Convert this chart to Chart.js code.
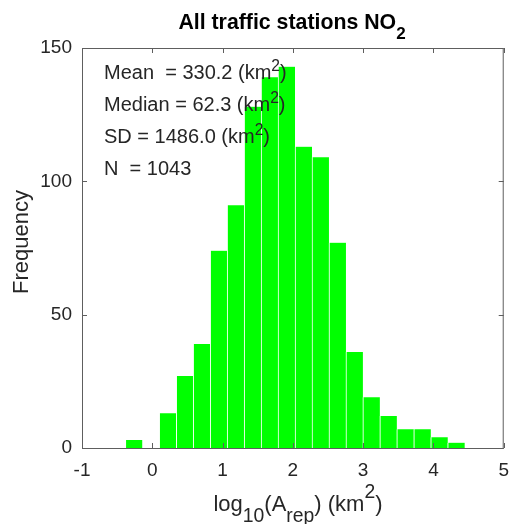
<!DOCTYPE html>
<html>
<head>
<meta charset="utf-8">
<script src="https://cdn.jsdelivr.net/npm/chart.js@4.4.1/dist/chart.umd.min.js"></script>
<style>
  body { margin: 0; background: #fff; }
  #wrap { width: 512px; height: 524px; }
</style>
</head>
<body>
<div id="wrap"><canvas id="histChart" width="512" height="524"></canvas></div>
<script>
// histogram bins (centers in log10 km2) and counts
const binCenters = [-0.262, -0.021, 0.220, 0.462, 0.703, 0.945, 1.186, 1.428, 1.669, 1.910,
                    2.152, 2.393, 2.635, 2.876, 3.117, 3.359, 3.600, 3.842, 4.083, 4.324];
const counts = [3, 0, 13, 27, 39, 74, 91, 128, 139, 143,
                113, 109, 77, 36, 19, 12, 7, 7, 4, 2];
const xTicks = [-1, 0, 1, 2, 3, 4, 5];
const yTicks = [0, 50, 100, 150];
const statLines = [
  ["Mean  = 330.2 (km", "2", ")"],
  ["Median = 62.3 (km", "2", ")"],
  ["SD = 1486.0 (km", "2", ")"],
  ["N  = 1043"]
];

const FONT = "'Liberation Sans', Arial, sans-serif";
const TXT = "#262626";
const AXIS = "#5e5e5e";

// draw a run of [text, mode] pieces, mode: n / sub / sup
// o = { scale, sub, sup } : small-text scale and offsets in em
function drawRich(ctx, parts, x, y, size, bold, align, o) {
  o = Object.assign({ scale: 0.78, sub: 0.5, sup: 0.4 }, o || {});
  const setFont = (p) => {
    const s = p[1] === 'n' ? size : size * o.scale;
    ctx.font = (bold ? 'bold ' : '') + s + 'px ' + FONT;
  };
  let total = 0;
  parts.forEach(p => { setFont(p); total += ctx.measureText(p[0]).width; });
  let cx = align === 'center' ? x - total / 2 : x;
  ctx.textBaseline = 'alphabetic';
  ctx.textAlign = 'left';
  parts.forEach(p => {
    setFont(p);
    let dy = 0;
    if (p[1] === 'sub') dy = size * o.sub;
    if (p[1] === 'sup') dy = -size * o.sup;
    ctx.fillText(p[0], cx, y + dy);
    cx += ctx.measureText(p[0]).width;
  });
}

const framePlugin = {
  id: 'frame',
  afterDatasetsDraw(chart) {
    const { ctx, chartArea: a, scales } = chart;
    ctx.save();
    ctx.strokeStyle = AXIS;
    ctx.lineWidth = 1;
    ctx.strokeRect(a.left + 0.5, a.top + 0.5, a.right - a.left - 1, a.bottom - a.top);
    ctx.beginPath();
    xTicks.forEach(v => {
      const px = Math.round(scales.x.getPixelForValue(v)) + 0.5;
      ctx.moveTo(px, a.bottom); ctx.lineTo(px, a.bottom - 5);
      ctx.moveTo(px, a.top); ctx.lineTo(px, a.top + 5);
    });
    yTicks.forEach(v => {
      const py = Math.round(scales.y.getPixelForValue(v)) + 0.5;
      ctx.moveTo(a.left, py); ctx.lineTo(a.left + 5, py);
      ctx.moveTo(a.right, py); ctx.lineTo(a.right - 5, py);
    });
    ctx.stroke();

    ctx.fillStyle = "#000";
    drawRich(ctx, [["All traffic stations NO", 'n'], ["2", 'sub']], 292, 29, 21.3, true, 'center',
      { scale: 0.8, sub: 0.45 });

    ctx.fillStyle = TXT;
    statLines.forEach((ln, i) => {
      const parts = ln.length > 1 ? [[ln[0], 'n'], [ln[1], 'sup'], [ln[2], 'n']] : [[ln[0], 'n']];
      drawRich(ctx, parts, 104, 78.5 + i * 32, 20, false, 'left', { scale: 0.78, sup: 0.36 });
    });

    drawRich(ctx, [["log", 'n'], ["10", 'sub'], ["(A", 'n'], ["rep", 'sub'], [") (km", 'n'], ["2", 'sup'], [")", 'n']],
      298, 511, 22, false, 'center', { scale: 0.88, sub: 0.48, sup: 0.6 });

    ctx.translate(28, 242);
    ctx.rotate(-Math.PI / 2);
    drawRich(ctx, [["Frequency", 'n']], 0, 0, 22, false, 'center');
    ctx.restore();
  }
};

new Chart(document.getElementById('histChart'), {
  type: 'bar',
  data: {
    datasets: [{
      data: binCenters.map((x, i) => ({ x: x, y: counts[i] })),
      backgroundColor: '#00ff00',
      borderColor: '#ffffff',
      borderWidth: { left: 1, right: 0, top: 0, bottom: 0 },
      borderSkipped: false,
      barPercentage: 1,
      categoryPercentage: 1
    }]
  },
  options: {
    responsive: false,
    animation: false,
    layout: { padding: { top: 48, right: 7, left: 0, bottom: 0 } },
    plugins: { legend: { display: false }, tooltip: { enabled: false } },
    scales: {
      x: {
        type: 'linear', min: -1, max: 5, offset: false,
        afterBuildTicks: s => { s.ticks = xTicks.map(v => ({ value: v })); },
        afterFit: s => { s.height = 76; },
        grid: { display: false },
        border: { display: false },
        ticks: { color: TXT, font: { family: FONT, size: 19 }, padding: 3, maxRotation: 0 }
      },
      y: {
        min: 0, max: 150,
        afterBuildTicks: s => { s.ticks = yTicks.map(v => ({ value: v })); },
        afterFit: s => { s.width = 82; },
        grid: { display: false },
        border: { display: false },
        ticks: { color: TXT, font: { family: FONT, size: 19 }, padding: 2 }
      }
    }
  },
  plugins: [framePlugin]
});
</script>
</body>
</html>
